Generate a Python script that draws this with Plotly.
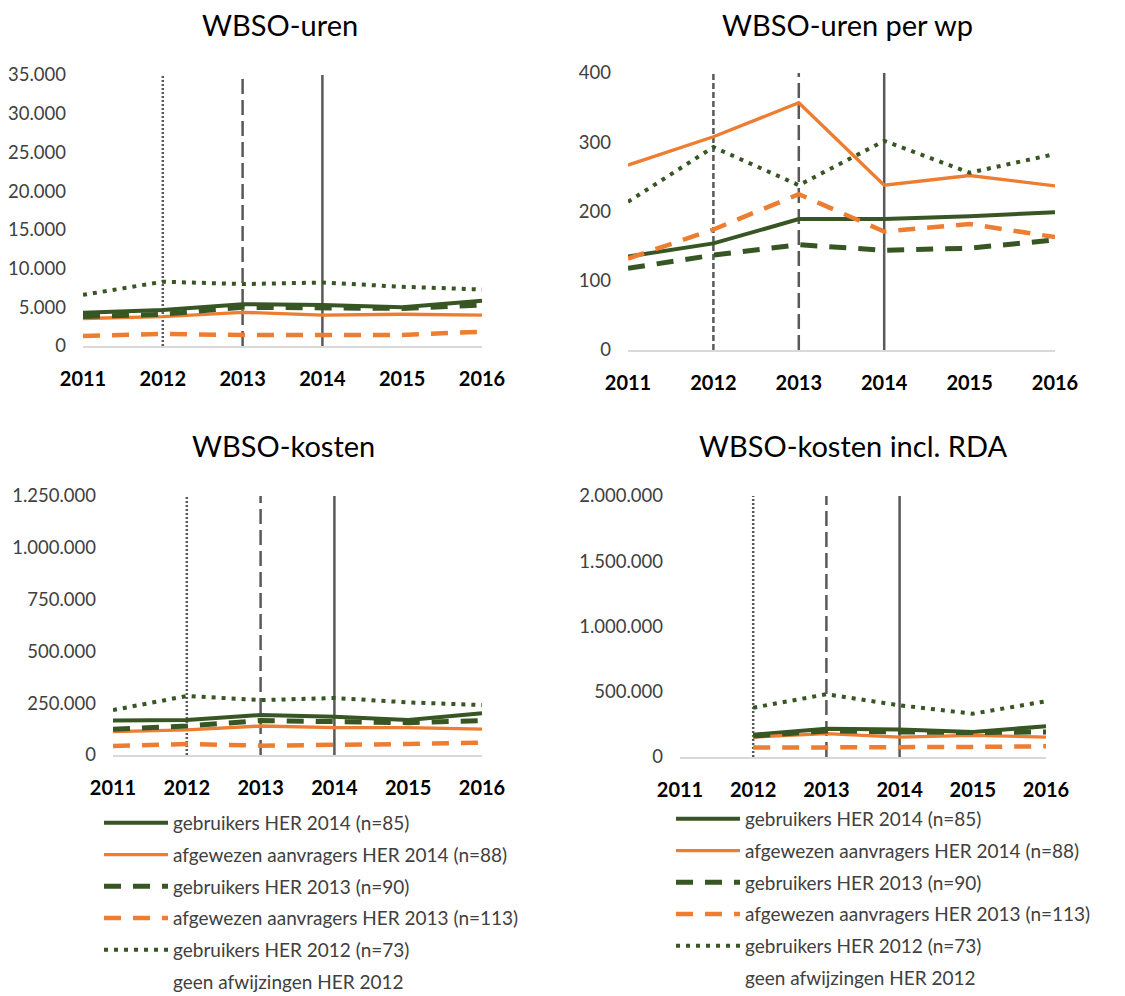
import plotly.graph_objects as go

# ---- data ----
YEARS = [2011, 2012, 2013, 2014, 2015, 2016]

SERIES_NAMES = [
    "gebruikers HER 2014 (n=85)",
    "afgewezen aanvragers HER 2014 (n=88)",
    "gebruikers HER 2013 (n=90)",
    "afgewezen aanvragers HER 2013 (n=113)",
    "gebruikers HER 2012 (n=73)",
    "geen afwijzingen HER 2012",
]

# WBSO-uren
uren_geb_2014 = [4300, 4650, 5400, 5300, 5000, 5850]
uren_afg_2014 = [3550, 3800, 4350, 4000, 4100, 4000]
uren_geb_2013 = [3800, 4100, 5000, 4850, 4850, 5300]
uren_afg_2013 = [1300, 1550, 1420, 1420, 1420, 1850]
uren_geb_2012 = [6600, 8300, 8000, 8200, 7650, 7300]

# WBSO-uren per wp
wp_geb_2014 = [135, 154, 189, 189, 193, 199]
wp_afg_2014 = [267, 308, 357, 238, 252, 237]
wp_geb_2013 = [118, 137, 152, 144, 147, 159]
wp_afg_2013 = [132, 174, 225, 171, 182, 163]
wp_geb_2012 = [214, 293, 238, 302, 256, 283]

# WBSO-kosten
kosten_geb_2014 = [166000, 169000, 193000, 185000, 169000, 201000]
kosten_afg_2014 = [113000, 121000, 140000, 132000, 132000, 125000]
kosten_geb_2013 = [124000, 140000, 166000, 158000, 156000, 166000]
kosten_afg_2013 = [43000, 53000, 45000, 48000, 53000, 60000]
kosten_geb_2012 = [217000, 285000, 265000, 275000, 254000, 241000]

# WBSO-kosten incl. RDA (no 2011 values)
rda_geb_2014 = [None, 171000, 217000, 210000, 192000, 235000]
rda_afg_2014 = [None, 153000, 179000, 153000, 166000, 153000]
rda_geb_2013 = [None, 161000, 200000, 192000, 187000, 192000]
rda_afg_2013 = [None, 72000, 72000, 72000, 77000, 82000]
rda_geb_2012 = [None, 378000, 481000, 396000, 332000, 427000]

HER_YEARS = [2012, 2013, 2014]

GREEN = "#375623"
ORANGE = "#ED7D31"
GREY = "#595959"
FONT = "Lato, sans-serif"

W, H = 1125, 996
PAGE_OFFSET = 8  # default body margin of the html page


def fx(px):
    return (px - PAGE_OFFSET) / W


def fy(py):
    return 1 - (py - PAGE_OFFSET) / H


STYLES = [
    dict(color=GREEN, width=4, dash="solid"),
    dict(color=ORANGE, width=3.3, dash="solid"),
    dict(color=GREEN, width=5, dash="17px,12px"),
    dict(color=ORANGE, width=4.5, dash="17px,12px"),
    dict(color=GREEN, width=4, dash="4px,6px"),
    dict(color="rgba(0,0,0,0)", width=0, dash="solid"),
]

# layout boxes in screen pixels: (left, right, top, bottom)
panels = [
    dict(title="WBSO-uren", data=[uren_geb_2014, uren_afg_2014, uren_geb_2013, uren_afg_2013, uren_geb_2012],
         yrange=[0, 35000], dtick=5000, box=(83, 482, 75, 346), title_xy=(280, 27),
         vdash=["2px,2px", "15px,6px", "solid"], legend=None),
    dict(title="WBSO-uren per wp", data=[wp_geb_2014, wp_afg_2014, wp_geb_2013, wp_afg_2013, wp_geb_2012],
         yrange=[0, 400], dtick=100, box=(628, 1055, 73, 350), title_xy=(847, 27),
         vdash=["6px,3px", "15px,6px", "solid"], legend=None),
    dict(title="WBSO-kosten", data=[kosten_geb_2014, kosten_afg_2014, kosten_geb_2013, kosten_afg_2013, kosten_geb_2012],
         yrange=[0, 1250000], dtick=250000, box=(113, 482, 496, 755), title_xy=(283, 448),
         vdash=["2px,2px", "15px,6px", "solid"], legend="legend"),
    dict(title="WBSO-kosten incl. RDA", data=[rda_geb_2014, rda_afg_2014, rda_geb_2013, rda_afg_2013, rda_geb_2012],
         yrange=[0, 2000000], dtick=500000, box=(680, 1046, 496, 757), title_xy=(853, 448),
         vdash=["2px,2px", "15px,6px", "solid"], legend="legend2"),
]

fig = go.Figure()
layout = {}
annotations = []

for i, p in enumerate(panels, start=1):
    suffix = "" if i == 1 else str(i)
    xa, ya = "x" + suffix, "y" + suffix
    left, right, top, bottom = p["box"]

    for j, name in enumerate(SERIES_NAMES):
        ys = p["data"][j] if j < len(p["data"]) else [None] * len(YEARS)
        st = STYLES[j]
        fig.add_trace(go.Scatter(
            x=YEARS, y=ys, name=name, mode="lines",
            line=dict(color=st["color"], width=st["width"], dash=st["dash"]),
            xaxis=xa, yaxis=ya,
            showlegend=p["legend"] is not None,
            legend=p["legend"] or "legend",
            legendgroup=f"{p['legend']}_{j}",
            hoverinfo="skip" if j == 5 else None,
        ))

    for yr, dash in zip(HER_YEARS, p["vdash"]):
        fig.add_shape(type="line", xref=xa, yref=ya + " domain", x0=yr, x1=yr, y0=0, y1=1,
                      line=dict(color=GREY, width=2.5, dash=dash), layer="below")

    layout["xaxis" + suffix] = dict(
        domain=[fx(left), fx(right)], anchor=ya, range=[2011, 2016], tickvals=YEARS,
        ticktext=[f"<b>{y}</b>" for y in YEARS],
        showgrid=False, zeroline=False, showline=True, linecolor="#d9d9d9", linewidth=1.5,
        ticks="", ticklabelstandoff=14, automargin=False,
        tickfont=dict(family=FONT, size=20, color="#000000"),
    )
    layout["yaxis" + suffix] = dict(
        domain=[fy(bottom), fy(top)], anchor=xa, range=p["yrange"], dtick=p["dtick"], tick0=0,
        showgrid=False, zeroline=False, showline=False, ticks="", tickformat=",",
        ticklabelstandoff=16, automargin=False,
        tickfont=dict(family=FONT, size=18.5, color="#404040"),
    )

    tx, ty = p["title_xy"]
    annotations.append(dict(
        text=p["title"], x=fx(tx), y=fy(ty - 2), xref="paper", yref="paper",
        xanchor="center", yanchor="middle", showarrow=False,
        font=dict(family=FONT, size=29, color="#000000"),
    ))

legend_common = dict(
    xanchor="left", yanchor="top", bgcolor="rgba(0,0,0,0)",
    font=dict(family=FONT, size=19, color="#404040"),
    itemwidth=64, tracegroupgap=4, traceorder="grouped",
)

fig.update_layout(
    **layout,
    annotations=annotations,
    width=W, height=H,
    margin=dict(l=0, r=0, t=0, b=0),
    paper_bgcolor="white", plot_bgcolor="white",
    separators=",.",
    font=dict(family=FONT),
    legend=dict(x=fx(99), y=fy(804), **legend_common),
    legend2=dict(x=fx(671), y=fy(800), **legend_common),
)

fig.write_html("out.html")
